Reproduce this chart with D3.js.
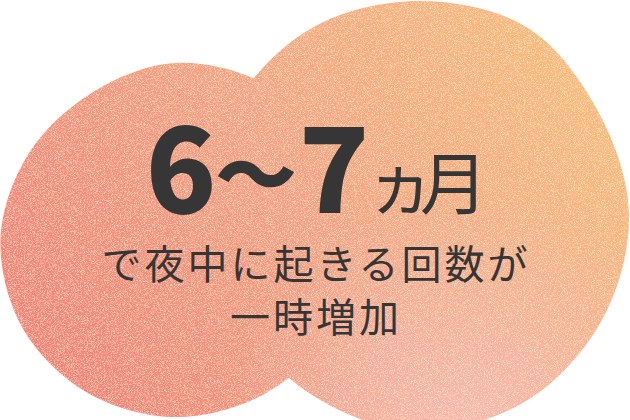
<!DOCTYPE html>
<html><head><meta charset="utf-8">
<script src="https://cdn.jsdelivr.net/npm/d3@7"></script>
<style>
html,body{margin:0;padding:0;background:#fff;}
svg{display:block;}
</style></head>
<body>
<svg id="c" width="630" height="420"></svg>
<script>
// Blob outlines (polar profile: angle in degrees clockwise from top, radius in px)
const blobAngles = [0,30,60,90,120,150,180,210,240,270,300,330];
const leftBlobRadii  = [177,180,181,181,181,178,177,176,176,174.5,170,169];
const rightBlobRadii = [214,216,206,209,210,214,216,210,208,212,215,216];
const blobCenters = [[175,240],[420,215]];
// Text content
const headlineNum = ["6","〜","7"];
const headlineUnit = "ヵ月";
const bodyLines = ["で夜中に起きる回数が","一時増加"];
// Gradient colours
const gradStops = [[0,"#f07e77"],[0.5,"#f3a184"],[1,"#f7be7c"]];

const svg = d3.select("#c");
const defs = svg.append("defs");
const lg = defs.append("linearGradient").attr("id","g1").attr("gradientUnits","userSpaceOnUse")
  .attr("x1",20).attr("y1",400).attr("x2",580).attr("y2",20);
gradStops.forEach(s=>lg.append("stop").attr("offset",s[0]).attr("stop-color",s[1]));
const rg = defs.append("radialGradient").attr("id","g2").attr("gradientUnits","userSpaceOnUse")
  .attr("cx",470).attr("cy",440).attr("r",250);
rg.append("stop").attr("offset",0).attr("stop-color","#f5bdb4").attr("stop-opacity",0.95);
rg.append("stop").attr("offset",0.55).attr("stop-color","#f5b9b0").attr("stop-opacity",0.5);
rg.append("stop").attr("offset",1).attr("stop-color","#f5b9b0").attr("stop-opacity",0);

const f = defs.append("filter").attr("id","grain").attr("x",0).attr("y",0).attr("width","100%").attr("height","100%");
f.append("feTurbulence").attr("type","fractalNoise").attr("baseFrequency",1.3).attr("numOctaves",1).attr("seed",5).attr("result","n");
f.append("feColorMatrix").attr("in","n").attr("type","matrix")
 .attr("values","0 0 0 0 0.99  0 0 0 0 0.86  0 0 0 0 0.55  4 0 0 0 -1.9").attr("result","n2");
f.append("feComposite").attr("in","n2").attr("in2","SourceAlpha").attr("operator","in").attr("result","n3");
f.append("feComponentTransfer").attr("in","n3").attr("result","n4")
 .append("feFuncA").attr("type","linear").attr("slope",0.6);
f.append("feColorMatrix").attr("in","n").attr("type","matrix")
 .attr("values","0 0 0 0 0.93  0 0 0 0 0.5  0 0 0 0 0.55  0 0 -4 0 1.9").attr("result","p2");
f.append("feComposite").attr("in","p2").attr("in2","SourceAlpha").attr("operator","in").attr("result","p3");
f.append("feComponentTransfer").attr("in","p3").attr("result","p4")
 .append("feFuncA").attr("type","linear").attr("slope",0.35);
const fm = f.append("feMerge");
fm.append("feMergeNode").attr("in","SourceGraphic");
fm.append("feMergeNode").attr("in","n4");
fm.append("feMergeNode").attr("in","p4");

const ang = d3.scaleLinear().domain([0,360]).range([0,2*Math.PI]);
const outline = d3.line().x(d=>d.cx + d.r*Math.sin(ang(d.a))).y(d=>d.cy - d.r*Math.cos(ang(d.a)))
  .curve(d3.curveCardinalClosed.tension(0));
const unionD = [leftBlobRadii,rightBlobRadii].map((rs,i)=>
  outline(blobAngles.map((a,j)=>({a,r:rs[j],cx:blobCenters[i][0],cy:blobCenters[i][1]})))).join(" ");

const g = svg.append("g").attr("filter","url(#grain)");
["url(#g1)","url(#g2)"].forEach(fill=>{
  g.append("path").attr("d",unionD).attr("fill",fill).attr("fill-rule","nonzero");
});

const col = "#363636";
// headline numbers: per-part layout (centre x, baseline y, size)
const hx = [181,256,334];
const hy = [213,205,213];
const hs = [116,82,116];
const t1 = svg.append("text").attr("text-anchor","middle")
  .attr("font-family","'Noto Sans CJK JP','Noto Sans',sans-serif").attr("font-weight",900).attr("fill",col);
t1.selectAll("tspan").data(headlineNum).enter().append("tspan")
  .attr("x",(d,i)=>hx[i]).attr("y",(d,i)=>hy[i]).attr("font-size",(d,i)=>hs[i]).text(d=>d);
svg.append("text").attr("x",367).attr("y",209).attr("text-anchor","start")
  .attr("font-family","'Noto Sans CJK JP',sans-serif").attr("font-weight",400).attr("font-size",68)
  .attr("letter-spacing",-15).attr("fill",col).text(headlineUnit);

bodyLines.forEach((s,i)=>{
  svg.append("text").attr("x",316).attr("y",279+i*53).attr("text-anchor","middle")
   .attr("font-family","'Noto Sans CJK JP',sans-serif").attr("font-size",40).attr("font-weight",400)
   .attr("letter-spacing",3).attr("fill",col).text(s);
});
</script>
</body></html>
